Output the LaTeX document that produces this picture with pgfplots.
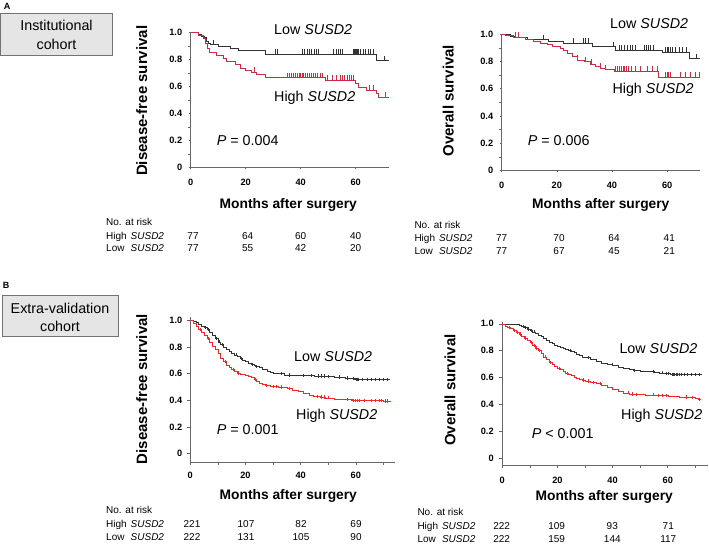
\documentclass[border=0pt]{standalone}
\usepackage{pgfplots}
\pgfplotsset{compat=1.18}
\usepackage{fontspec}
\setmainfont{Liberation Sans}
\definecolor{redA}{HTML}{CC2A45}
\definecolor{redB}{HTML}{F0282A}
\definecolor{blk}{HTML}{333333}
\definecolor{axg}{HTML}{666666}
\pgfdeclareplotmark{cup}{\pgfpathmoveto{\pgfpointorigin}\pgfpathlineto{\pgfpoint{0pt}{5pt}}\pgfusepathqstroke}
\newcommand\fbig{\fontsize{14.3}{16}\selectfont}
\newcommand\frisk{\fontsize{10}{12}\selectfont}
\newcommand\fxlab{\fontsize{13.8}{16}\selectfont\bfseries}
\newcommand\fylab{\fontsize{15}{17}\selectfont\bfseries}
\newcommand\SU{\textit{SUSD2}}
\pgfplotsset{km/.style={scale only axis, anchor=south west, axis lines=left,
  axis line style={draw=axg,-,line width=0.6pt}, tick style={draw=axg,line width=0.6pt},
  tick align=outside, major tick length=3pt, minor tick length=3pt,
  xtick={0,20,40,60}, xticklabels={0,20,40,60},
  ytick={0,0.2,0.4,0.6,0.8,1}, yticklabels={0,0.2,0.4,0.6,0.8,1.0},
  ticklabel style={font=\fontsize{9.2}{10}\selectfont\bfseries},
  /pgf/number format/assume math mode=true,
  clip=false, enlargelimits=false, xmin=0}}
\begin{document}
\begin{tikzpicture}
\path[use as bounding box] (0pt,0pt) rectangle (709pt,-545pt);
% ---------- labels and boxes
\node[font=\fontsize{9}{10}\selectfont\bfseries] at (7pt,-6pt) {A};
\node[font=\fontsize{9}{10}\selectfont\bfseries] at (6pt,-285pt) {B};
\draw[draw=black!55, fill=black!10, line width=0.8pt] (0.5pt,-13.3pt) rectangle (112.5pt,-55pt);
\node[font=\fbig] at (56.5pt,-25.7pt) {Institutional};
\node[font=\fbig] at (56.5pt,-44.3pt) {cohort};
\draw[draw=black!55, fill=black!10, line width=0.8pt] (2pt,-295.7pt) rectangle (118pt,-336.7pt);
\node[font=\fbig] at (60pt,-308.3pt) {Extra-validation};
\node[font=\fbig] at (60pt,-326.7pt) {cohort};

% ================= Panel A left (DFS) =================
\begin{axis}[km, at={(190.7pt,-167.3pt)}, width=198pt, height=134.8pt,
  xmax=72, ymin=0, ymax=1, minor ytick={0.1,0.3,0.5,0.7,0.9}, major tick length=2pt,
  xticklabel style={yshift=-6pt}, yticklabel style={xshift=-3pt}]
\addplot[const plot, blk, line width=0.7pt] coordinates {(0,1)(2.8,0.987)(4,0.974)(5,0.961)(5.8,0.935)(6.3,0.922)(7,0.909)(10,0.896)(14.5,0.883)(17.5,0.87)(27,0.837)(67.6,0.79)(72,0.79)};
\addplot[only marks, mark=cup, blk, line width=0.6pt] coordinates {(8.2,0.909)(30.7,0.837)(31.6,0.837)(40.4,0.837)(41.4,0.837)(42.3,0.837)(43.2,0.837)(44,0.837)(44.8,0.837)(45.6,0.837)(46.4,0.837)(52,0.837)(52.8,0.837)(53.6,0.837)(54.4,0.837)(55.3,0.837)(59,0.837)(59.4,0.837)(59.8,0.837)(60.2,0.837)(60.6,0.837)(61,0.837)(61.6,0.837)(62.6,0.837)(63.5,0.837)(64.5,0.837)(65.4,0.837)(66.4,0.837)(70.3,0.79)};
\addplot[const plot, redA, line width=0.7pt] coordinates {(0,1)(2.8,0.98)(4.6,0.955)(5.5,0.92)(6.2,0.88)(6.7,0.85)(9.5,0.83)(11.9,0.806)(13.1,0.787)(16.1,0.76)(17.9,0.737)(19.8,0.72)(22.2,0.707)(24,0.69)(27,0.67)(34.3,0.665)(48.8,0.645)(59.8,0.62)(61,0.596)(64,0.57)(67.6,0.546)(68.2,0.52)(72,0.52)};
\addplot[only marks, mark=cup, redA, line width=0.6pt] coordinates {(23,0.707)(35.2,0.665)(35.9,0.665)(36.6,0.665)(37.3,0.665)(38,0.665)(38.8,0.665)(39.5,0.665)(40,0.665)(40.5,0.665)(41,0.665)(41.6,0.665)(42.3,0.665)(43,0.665)(43.8,0.665)(44.5,0.665)(45.3,0.665)(46,0.665)(47,0.665)(48,0.665)(49.5,0.645)(51.5,0.645)(53,0.645)(54.5,0.645)(55.3,0.645)(56,0.645)(56.8,0.645)(57.5,0.645)(58.3,0.645)(59.3,0.645)(65,0.57)(66.3,0.57)(70.6,0.52)};
\end{axis}

% ================= Panel A right (OS) =================
\begin{axis}[km, at={(501.7pt,-170.5pt)}, width=198.5pt, height=136.2pt,
  xmax=72, ymin=0, ymax=1, minor ytick={0.1,0.3,0.5,0.7,0.9}, major tick length=2pt,
  xticklabel style={yshift=-6pt}, yticklabel style={xshift=-3pt}]
\addplot[const plot, blk, line width=0.7pt] coordinates {(0,1)(3.1,0.987)(5,0.974)(9.2,0.961)(17.1,0.948)(22.5,0.935)(32.8,0.909)(41.3,0.883)(58.2,0.868)(67.9,0.82)(72,0.82)};
\addplot[only marks, mark=cup, blk, line width=0.6pt] coordinates {(15.2,0.961)(26,0.935)(29.5,0.935)(30.5,0.935)(31.5,0.935)(40.6,0.909)(42.5,0.883)(43.5,0.883)(44.5,0.883)(45.5,0.883)(46.5,0.883)(47.5,0.883)(48.3,0.883)(51.6,0.883)(52.5,0.883)(53.3,0.883)(54,0.883)(55,0.883)(59.4,0.868)(60,0.868)(60.5,0.868)(61,0.868)(61.3,0.868)(62,0.868)(63,0.868)(64.5,0.868)(65.5,0.868)(67,0.868)(70.7,0.82)};
\addplot[const plot, redA, line width=0.7pt] coordinates {(0,1)(1.3,0.99)(4.4,0.978)(8.6,0.96)(11.6,0.948)(14,0.936)(16.5,0.924)(18.3,0.91)(21.3,0.9)(22.5,0.88)(23.7,0.86)(25.5,0.84)(27.4,0.81)(29.8,0.8)(32.2,0.78)(34,0.765)(35.8,0.75)(37.6,0.74)(40.7,0.73)(57,0.685)(72,0.685)};
\addplot[only marks, mark=cup, redA, line width=0.6pt] coordinates {(5,0.978)(6.2,0.978)(27.4,0.81)(30.4,0.8)(32.5,0.78)(35.9,0.75)(37.7,0.74)(41.3,0.73)(42,0.73)(42.7,0.73)(43.4,0.73)(44,0.73)(44.6,0.73)(45.3,0.73)(46,0.73)(47,0.73)(48.5,0.73)(50.4,0.73)(52.8,0.73)(54.6,0.73)(56.4,0.73)(59.4,0.685)(60,0.685)(60.6,0.685)(61.3,0.685)(64.9,0.685)(66.7,0.685)(68.5,0.685)(70.3,0.685)(71.5,0.685)};
\end{axis}

% ================= Panel B left (DFS) =================
\begin{axis}[km, at={(190.3pt,-462.1pt)}, width=204.7pt, height=145.6pt,
  xmax=74.2, ymin=-0.065, ymax=1.03, minor xtick={10,30,50,70},
  xticklabel style={yshift=-3pt}, yticklabel style={xshift=-1.5pt}]
\addplot[const plot, blk, line width=0.5pt] coordinates {(0,1)(1,0.995)(2,0.985)(3,0.975)(4,0.96)(5,0.95)(6,0.935)(7,0.915)(8,0.89)(9,0.865)(10,0.84)(11,0.82)(12,0.8)(13,0.785)(14,0.77)(15,0.755)(16,0.742)(17,0.73)(18,0.715)(19,0.7)(20,0.69)(21,0.68)(22,0.67)(23,0.66)(24,0.655)(25,0.645)(26,0.635)(27,0.63)(28,0.62)(29,0.613)(30,0.605)(32,0.6)(34,0.59)(37,0.587)(40,0.585)(45,0.583)(49,0.58)(52,0.575)(56,0.567)(58,0.562)(59.8,0.555)(72.4,0.555)};
\addplot[only marks, mark=+, mark size=1.6pt, blk, line width=0.5pt] coordinates {(5.5,0.95)(6.5,0.935)(9.5,0.865)(10.5,0.84)(11.5,0.82)(16.5,0.742)(18.5,0.715)(22.5,0.67)(24,0.655)(33,0.6)(36,0.59)(41,0.585)(44,0.585)(46.5,0.583)(47.5,0.583)(48.5,0.583)(50,0.58)(54,0.575)(57,0.567)(59,0.562)(60,0.555)(60.5,0.555)(61,0.555)(62.5,0.555)(64,0.555)(65.5,0.555)(67,0.555)(68.5,0.555)(70,0.555)(71.5,0.555)};
\addplot[const plot, redB, line width=0.5pt] coordinates {(0,1)(1,0.98)(2,0.955)(3,0.935)(4,0.91)(5,0.89)(6,0.865)(7,0.84)(8,0.81)(9,0.78)(10,0.75)(11,0.715)(12,0.69)(13,0.665)(14,0.645)(15,0.63)(16,0.615)(17,0.605)(18,0.598)(19,0.593)(20,0.588)(21,0.58)(22,0.57)(23,0.555)(24,0.545)(25,0.53)(26,0.52)(27,0.51)(29,0.505)(32,0.5)(35,0.49)(37,0.475)(39,0.465)(41,0.455)(43,0.44)(44.5,0.43)(47,0.425)(49,0.418)(52,0.41)(54,0.405)(58.6,0.4)(65,0.398)(70,0.395)(72.4,0.39)};
\addplot[only marks, mark=+, mark size=1.6pt, redB, line width=0.5pt] coordinates {(3.7,0.935)(6.5,0.865)(12.5,0.69)(15.5,0.63)(17.5,0.605)(23.5,0.555)(27.5,0.51)(30,0.505)(31,0.505)(33,0.5)(35.7,0.49)(46,0.43)(47.5,0.425)(48.5,0.425)(50,0.418)(57,0.405)(59,0.4)(59.8,0.4)(60.5,0.4)(61.2,0.4)(63,0.4)(65.5,0.398)(67,0.398)(68.5,0.398)(69.2,0.398)(70.5,0.395)(71.5,0.395)};
\end{axis}

% ================= Panel B right (OS) =================
\begin{axis}[km, at={(502.2pt,-464.8pt)}, width=205.6pt, height=143pt,
  xmax=74.5, ymin=-0.048, ymax=1.015, minor xtick={10,30,50,70},
  xticklabel style={yshift=-6pt}, yticklabel style={xshift=-2pt}]
\addplot[const plot, blk, line width=0.5pt] coordinates {(0,1)(5,0.998)(6,0.99)(7,0.98)(8,0.975)(9,0.962)(10,0.95)(11,0.94)(12,0.93)(13,0.918)(14,0.905)(15,0.89)(16,0.878)(17,0.865)(18,0.853)(19,0.843)(20,0.835)(21,0.827)(22,0.818)(23,0.81)(24,0.8)(25,0.793)(26,0.785)(27,0.775)(28,0.765)(29,0.755)(30,0.748)(32,0.735)(34,0.72)(36,0.71)(38,0.7)(40,0.692)(42,0.68)(44,0.673)(46,0.665)(48,0.655)(50,0.65)(52,0.647)(55,0.64)(57,0.636)(59,0.63)(61,0.625)(72,0.622)};
\addplot[only marks, mark=+, mark size=1.6pt, blk, line width=0.5pt] coordinates {(7.5,0.98)(8.5,0.975)(9.5,0.962)(10.5,0.95)(11.5,0.94)(24.5,0.8)(31,0.748)(39.7,0.7)(48,0.655)(54.7,0.647)(58,0.636)(59.5,0.63)(60,0.63)(61.5,0.625)(62,0.625)(62.5,0.625)(63,0.625)(63.5,0.625)(64,0.625)(65,0.625)(66,0.625)(67,0.625)(68.5,0.625)(70,0.625)(71.5,0.625)};
\addplot[const plot, redB, line width=0.5pt] coordinates {(0,1)(1,0.985)(2,0.975)(3,0.965)(4,0.95)(5,0.935)(6,0.925)(7,0.91)(8,0.895)(9,0.877)(10,0.86)(11,0.84)(12,0.82)(13,0.8)(14,0.778)(15,0.755)(16,0.735)(17,0.715)(18,0.7)(19,0.685)(20,0.67)(21,0.66)(22,0.645)(23,0.633)(24,0.625)(25,0.615)(26,0.605)(27,0.598)(28,0.59)(29,0.583)(30,0.575)(32,0.565)(34,0.556)(36,0.54)(38,0.53)(40,0.515)(42,0.5)(44,0.487)(46,0.478)(48,0.474)(52,0.472)(56,0.468)(60,0.458)(64,0.456)(68,0.452)(70,0.448)(71.5,0.44)(72,0.44)};
\addplot[only marks, mark=+, mark size=1.6pt, redB, line width=0.5pt] coordinates {(2.5,0.975)(4.5,0.95)(5.5,0.935)(6.5,0.925)(8.5,0.895)(10.5,0.86)(11.5,0.84)(12.5,0.82)(13.5,0.8)(15.5,0.755)(17.5,0.715)(20.5,0.67)(23.5,0.633)(29.5,0.583)(31,0.575)(33,0.565)(35.5,0.556)(45.7,0.487)(47,0.478)(48.7,0.474)(54.7,0.472)(56.5,0.468)(58,0.468)(59.5,0.468)(66.7,0.456)(69,0.452)(71.5,0.44)};
\end{axis}

% ---------- in-plot texts
\begin{scope}[every node/.style={font=\fbig, inner sep=0pt}]
\node[anchor=mid west] at (274pt,-31.7pt) {Low \SU};
\node[anchor=mid west] at (274pt,-99.3pt) {High \SU};
\node[anchor=mid west] at (216.7pt,-143.3pt) {\textit{P} = 0.004};
\node[anchor=mid west] at (610pt,-25.7pt) {Low \SU};
\node[anchor=mid west] at (612.3pt,-90.7pt) {High \SU};
\node[anchor=mid west] at (527.7pt,-143.3pt) {\textit{P} = 0.006};
\node[anchor=mid west] at (294pt,-359pt) {Low \SU};
\node[anchor=mid west] at (296pt,-417.3pt) {High \SU};
\node[anchor=mid west] at (216.7pt,-431.7pt) {\textit{P} = 0.001};
\node[anchor=mid west] at (619.3pt,-350.7pt) {Low \SU};
\node[anchor=mid west] at (621pt,-416.7pt) {High \SU};
\node[anchor=mid west] at (531.7pt,-435.7pt) {\textit{P} < 0.001};
\end{scope}
% ---------- axis titles
\begin{scope}[every node/.style={inner sep=0pt}]
\node[font=\fylab, rotate=90] at (141.7pt,-100.8pt) {Disease-free survival};
\node[font=\fylab, rotate=90] at (448.3pt,-100.8pt) {Overall survival};
\node[font=\fylab, rotate=90] at (141.7pt,-389pt) {Disease-free survival};
\node[font=\fylab, rotate=90] at (450pt,-390pt) {Overall survival};
\node[font=\fxlab] at (288.3pt,-205pt) {Months after surgery};
\node[font=\fxlab] at (600.8pt,-205pt) {Months after surgery};
\node[font=\fxlab] at (288.3pt,-496pt) {Months after surgery};
\node[font=\fxlab] at (604.2pt,-497.3pt) {Months after surgery};
\end{scope}
% ---------- risk tables
\begin{scope}[every node/.style={font=\frisk, inner sep=0pt}]
% A left
\node[anchor=mid west] at (106pt,-222.7pt) {No. at risk};
\node[anchor=mid west] at (106pt,-236.7pt) {\makebox[2.45em][l]{High}\SU};
\node[anchor=mid west] at (106pt,-249.3pt) {\makebox[2.45em][l]{Low}\SU};
\node[anchor=mid] at (193pt,-236.7pt) {77};\node[anchor=mid] at (247.7pt,-236.7pt) {64};
\node[anchor=mid] at (300.7pt,-236.7pt) {60};\node[anchor=mid] at (355.7pt,-236.7pt) {40};
\node[anchor=mid] at (193pt,-249.3pt) {77};\node[anchor=mid] at (247.7pt,-249.3pt) {55};
\node[anchor=mid] at (300.7pt,-249.3pt) {42};\node[anchor=mid] at (355.7pt,-249.3pt) {20};
% A right
\node[anchor=mid west] at (414.3pt,-225.7pt) {No. at risk};
\node[anchor=mid west] at (414.3pt,-239.3pt) {\makebox[2.45em][l]{High}\SU};
\node[anchor=mid west] at (414.3pt,-251.7pt) {\makebox[2.45em][l]{Low}\SU};
\node[anchor=mid] at (501.7pt,-239.3pt) {77};\node[anchor=mid] at (559pt,-239.3pt) {70};
\node[anchor=mid] at (614pt,-239.3pt) {64};\node[anchor=mid] at (669.3pt,-239.3pt) {41};
\node[anchor=mid] at (501.7pt,-251.7pt) {77};\node[anchor=mid] at (559pt,-251.7pt) {67};
\node[anchor=mid] at (614pt,-251.7pt) {45};\node[anchor=mid] at (669.3pt,-251.7pt) {21};
% B left
\node[anchor=mid west] at (106pt,-510.7pt) {No. at risk};
\node[anchor=mid west] at (106pt,-525pt) {\makebox[2.45em][l]{High}\SU};
\node[anchor=mid west] at (106pt,-537.7pt) {\makebox[2.45em][l]{Low}\SU};
\node[anchor=mid] at (192pt,-525pt) {221};\node[anchor=mid] at (246pt,-525pt) {107};
\node[anchor=mid] at (301pt,-525pt) {82};\node[anchor=mid] at (356pt,-525pt) {69};
\node[anchor=mid] at (192pt,-537.7pt) {222};\node[anchor=mid] at (246pt,-537.7pt) {131};
\node[anchor=mid] at (301pt,-537.7pt) {105};\node[anchor=mid] at (356pt,-537.7pt) {90};
% B right
\node[anchor=mid west] at (417.3pt,-513.3pt) {No. at risk};
\node[anchor=mid west] at (417.3pt,-527.3pt) {\makebox[2.45em][l]{High}\SU};
\node[anchor=mid west] at (417.3pt,-540pt) {\makebox[2.45em][l]{Low}\SU};
\node[anchor=mid] at (501.7pt,-527.3pt) {222};\node[anchor=mid] at (556.7pt,-527.3pt) {109};
\node[anchor=mid] at (612.3pt,-527.3pt) {93};\node[anchor=mid] at (668.3pt,-527.3pt) {71};
\node[anchor=mid] at (501.7pt,-540pt) {222};\node[anchor=mid] at (556.7pt,-540pt) {159};
\node[anchor=mid] at (612.3pt,-540pt) {144};\node[anchor=mid] at (668.3pt,-540pt) {117};
\end{scope}
\end{tikzpicture}
\end{document}
